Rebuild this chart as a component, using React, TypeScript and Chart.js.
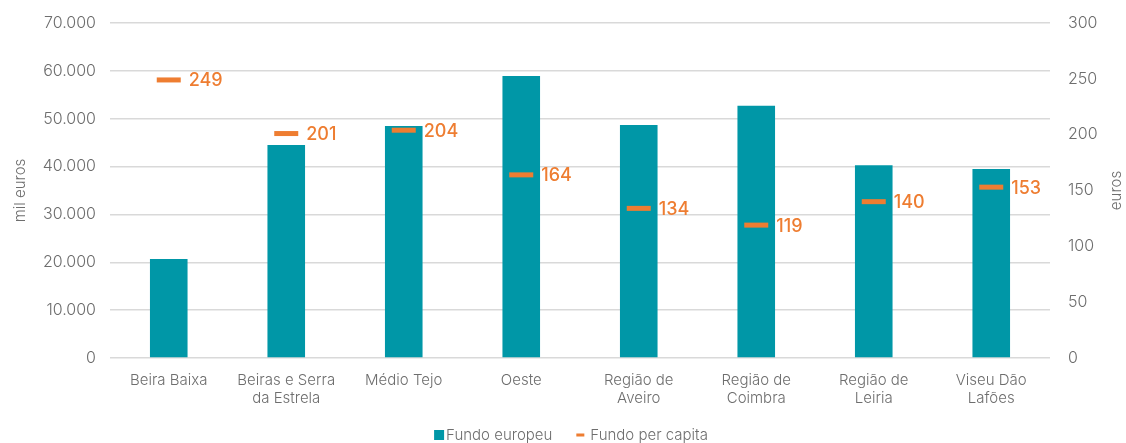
import React, { useEffect, useRef } from "react";
import { Chart, registerables } from "chart.js";

Chart.register(...registerables);

const categories: (string | string[])[] = [
  "Beira Baixa",
  ["Beiras e Serra", "da Estrela"],
  "Médio Tejo",
  "Oeste",
  ["Região de", "Aveiro"],
  ["Região de", "Coimbra"],
  ["Região de", "Leiria"],
  ["Viseu Dão", "Lafões"],
];
const fundoEuropeu = [20700, 44500, 48500, 58900, 48700, 52700, 40300, 39500];
const fundoPerCapita = [249, 201, 204, 164, 134, 119, 140, 153];
const leftTicks = [0, 10000, 20000, 30000, 40000, 50000, 60000, 70000];
const rightTicks = [0, 50, 100, 150, 200, 250, 300];
const legendLabels = ["Fundo europeu", "Fundo per capita"];

const TEAL = "#0097A7";
const ORANGE = "#EE7D31";
const TEXT = "#6e6e6e";
const FONT = "Inter, 'Open Sans', sans-serif";

const fmt = (v: number) =>
  String(v).replace(/\B(?=(\d{3})+(?!\d))/g, ".");

const pointLabels = {
  id: "pointLabels",
  afterDatasetsDraw(chart: any) {
    const meta = chart.getDatasetMeta(1);
    const ctx = chart.ctx;
    ctx.save();
    ctx.fillStyle = ORANGE;
    ctx.font = `500 18px ${FONT}`;
    ctx.textAlign = "left";
    ctx.textBaseline = "middle";
    meta.data.forEach((pt: any, i: number) => {
      ctx.fillText(String(fundoPerCapita[i]), pt.x + 20, pt.y + 1);
    });
    ctx.restore();
  },
};

const extras = {
  id: "extras",
  afterDraw(chart: any) {
    const s = chart.scales.y1;
    const ctx = chart.ctx;
    ctx.save();
    ctx.fillStyle = TEXT;
    ctx.font = `300 15px ${FONT}`;
    ctx.textAlign = "center";
    ctx.textBaseline = "middle";
    ctx.save();
    ctx.translate(1116, (s.top + s.bottom) / 2);
    ctx.rotate(-Math.PI / 2);
    ctx.fillText("euros", 0, 0);
    ctx.restore();
    ctx.font = `300 15px ${FONT}`;
    ctx.textAlign = "left";
    const y = 435;
    const w0 = ctx.measureText(legendLabels[0]).width;
    const w1 = ctx.measureText(legendLabels[1]).width;
    const gap = 24;
    const total = 10 + 2 + w0 + gap + 8 + 6 + w1;
    let x = 571 - total / 2;
    ctx.fillStyle = TEAL;
    ctx.fillRect(x, y - 5, 10, 10);
    x += 12;
    ctx.fillStyle = TEXT;
    ctx.fillText(legendLabels[0], x, y);
    x += w0 + gap;
    ctx.fillStyle = ORANGE;
    ctx.fillRect(x, y - 1.5, 8, 3);
    x += 14;
    ctx.fillStyle = TEXT;
    ctx.fillText(legendLabels[1], x, y);
    ctx.restore();
  },
};

export default function App() {
  const ref = useRef<HTMLCanvasElement | null>(null);
  useEffect(() => {
    if (!ref.current) return;
    const chart = new Chart(ref.current, {
      type: "bar",
      data: {
        labels: categories,
        datasets: [
          {
            type: "bar",
            label: legendLabels[0],
            data: fundoEuropeu,
            backgroundColor: TEAL,
            yAxisID: "y",
            categoryPercentage: 1,
            barPercentage: 0.32,
            order: 2,
          },
          {
            type: "line",
            label: legendLabels[1],
            data: fundoPerCapita,
            yAxisID: "y1",
            showLine: false,
            pointStyle: "line",
            pointRadius: 12,
            pointHoverRadius: 12,
            pointBorderWidth: 5,
            borderColor: ORANGE,
            backgroundColor: ORANGE,
            order: 1,
          } as any,
        ],
      },
      options: {
        animation: false,
        responsive: true,
        maintainAspectRatio: false,
        layout: { padding: { top: 23, left: 0, right: 0, bottom: 33 } },
        plugins: {
          tooltip: { enabled: false },
          legend: { display: false },
        },
        scales: {
          x: {
            grid: { display: false },
            border: { display: false },
            ticks: {
              color: TEXT,
              font: { family: FONT, size: 15, weight: "300" as any },
              maxRotation: 0,
              autoSkip: false,
              padding: 5,
            },
            afterFit: (s: any) => {
              s.height = 52;
            },
          },
          y: {
            position: "left",
            min: 0,
            max: 70000,
            afterBuildTicks: (s: any) => {
              s.ticks = leftTicks.map((v) => ({ value: v }));
            },
            grid: { color: "#d9d9d9", lineWidth: 1.5, drawTicks: false },
            border: { display: false },
            ticks: {
              color: TEXT,
              font: { family: FONT, size: 16, weight: "300" as any },
              padding: 14,
              callback: (v: any) => fmt(Number(v)),
            },
            title: {
              display: true,
              text: "mil euros",
              color: TEXT,
              font: { family: FONT, size: 15, weight: "300" as any },
              padding: { top: 11, bottom: 0 },
            },
            afterFit: (s: any) => {
              s.width = 110;
              s.paddingTop = 0;
              s.paddingBottom = 0;
            },
          },
          y1: {
            position: "right",
            min: 0,
            max: 300,
            afterBuildTicks: (s: any) => {
              s.ticks = rightTicks.map((v) => ({ value: v }));
            },
            grid: { drawOnChartArea: false, drawTicks: false },
            border: { display: false },
            ticks: {
              color: TEXT,
              font: { family: FONT, size: 16, weight: "300" as any },
              padding: 18,
            },
            afterFit: (s: any) => {
              s.width = 76;
              s.paddingTop = 0;
              s.paddingBottom = 0;
            },
          },
        },
      },
      plugins: [pointLabels, extras],
    });
    return () => chart.destroy();
  }, []);
  return (
    <div style={{ position: "fixed", left: 0, top: 0, width: 1126, height: 443 }}>
      <canvas ref={ref} />
    </div>
  );
}
